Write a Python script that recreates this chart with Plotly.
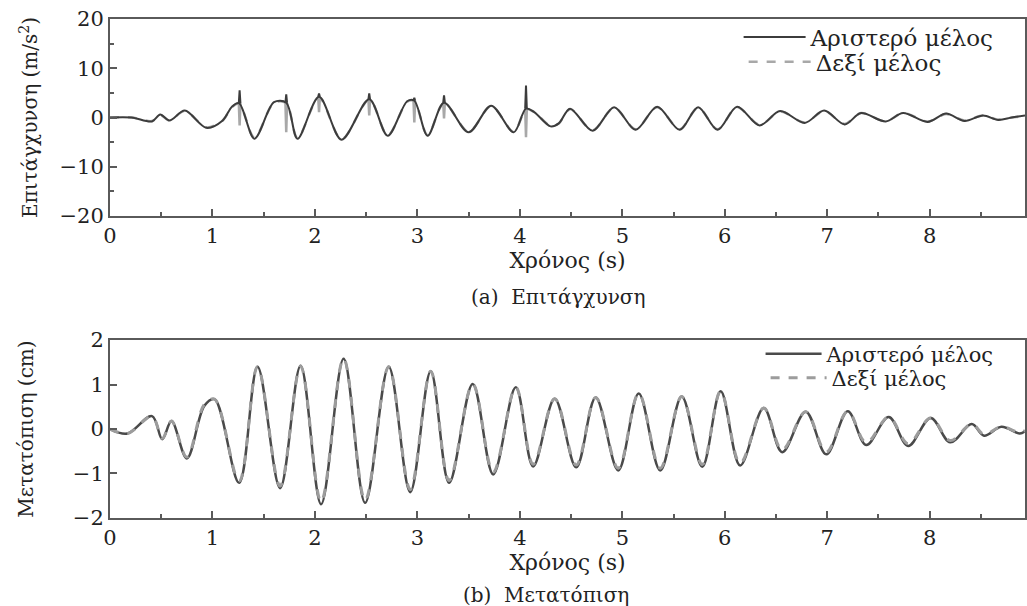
import plotly.graph_objects as go
from plotly.subplots import make_subplots

# ---------------- (a) acceleration, m/s^2 ----------------
acc_t = [0.00, 0.21, 0.41, 0.49, 0.58, 0.73, 0.94, 1.10, 1.19, 1.26, 1.41, 1.60,
         1.72, 1.83, 2.04, 2.26, 2.53, 2.71, 2.90, 2.97, 3.10, 3.26, 3.50, 3.72,
         3.94, 4.06, 4.14, 4.30, 4.38, 4.49, 4.71, 4.92, 5.13, 5.34, 5.56, 5.74,
         5.93, 6.12, 6.34, 6.54, 6.78, 6.97, 7.17, 7.33, 7.57, 7.74, 7.98, 8.16,
         8.34, 8.52, 8.67, 8.80, 8.93]
acc_left = [0.0, 0.0, -0.8, 0.6, -0.6, 1.4, -2.1, -0.6, 2.2, 2.9, -4.3, 3.1,
            3.0, -4.3, 4.2, -4.5, 3.7, -3.7, 3.3, 3.4, -3.7, 3.0, -3.0, 2.4,
            -3.0, 1.8, 1.1, -1.8, -1.2, 1.8, -2.7, 2.1, -2.5, 2.2, -2.5, 2.1,
            -2.5, 2.2, -1.6, 1.3, -1.1, 1.4, -1.4, 0.9, -0.8, 0.9, -0.9, 0.8,
            -0.7, 0.4, -0.5, 0.0, 0.4]
acc_right = [0.0, 0.0, -0.7, 0.5, -0.6, 1.3, -2.0, -0.6, 2.1, 2.8, -4.1, 3.0,
             2.9, -4.2, 4.0, -4.4, 3.6, -3.6, 3.2, 3.3, -3.6, 2.9, -2.9, 2.3,
             -2.9, 1.7, 1.1, -1.7, -1.2, 1.7, -2.6, 2.0, -2.4, 2.1, -2.4, 2.0,
             -2.4, 2.1, -1.5, 1.2, -1.0, 1.3, -1.3, 0.9, -0.8, 0.9, -0.8, 0.7,
             -0.6, 0.4, -0.4, 0.0, 0.3]

# impact instants: short spikes on the left member, dips on the right member
impact_t = [1.265, 1.72, 2.04, 2.53, 2.97, 3.26, 4.06]
impact_base = [2.9, 3.0, 4.2, 3.7, 3.4, 3.0, 1.8]
spike_left = [5.5, 4.7, 4.9, 4.9, 4.0, 4.5, 6.5]
dip_right = [-1.6, -3.0, 1.1, 0.4, -1.0, -0.2, -4.0]

# ---------------- (b) displacement, cm ----------------
disp_t = [0.00, 0.17, 0.41, 0.51, 0.60, 0.75, 0.92, 1.02, 1.26, 1.44, 1.66, 1.86,
          2.06, 2.28, 2.49, 2.72, 2.93, 3.13, 3.31, 3.54, 3.74, 3.96, 4.13, 4.34,
          4.55, 4.74, 4.96, 5.16, 5.37, 5.58, 5.78, 5.96, 6.15, 6.38, 6.56, 6.79,
          6.99, 7.20, 7.38, 7.60, 7.79, 8.01, 8.20, 8.41, 8.53, 8.70, 8.88, 8.93]
disp_left = [0.00, -0.10, 0.29, -0.23, 0.18, -0.66, 0.52, 0.67, -1.21, 1.40, -1.33, 1.42,
             -1.69, 1.58, -1.66, 1.40, -1.42, 1.30, -1.21, 1.01, -1.02, 0.94, -0.84, 0.68,
             -0.86, 0.71, -0.93, 0.80, -0.93, 0.73, -0.85, 0.85, -0.82, 0.47, -0.52, 0.39,
             -0.57, 0.40, -0.36, 0.27, -0.38, 0.25, -0.30, 0.11, -0.15, 0.05, -0.10, -0.05]
disp_right = [0.00, -0.10, 0.28, -0.21, 0.18, -0.63, 0.55, 0.67, -1.17, 1.40, -1.28, 1.41,
              -1.63, 1.58, -1.60, 1.40, -1.36, 1.30, -1.16, 1.01, -0.97, 0.94, -0.79, 0.68,
              -0.81, 0.71, -0.88, 0.80, -0.88, 0.73, -0.80, 0.85, -0.77, 0.47, -0.47, 0.39,
              -0.52, 0.40, -0.31, 0.27, -0.33, 0.25, -0.26, 0.11, -0.12, 0.05, -0.08, -0.03]

x_ticks = [0, 1, 2, 3, 4, 5, 6, 7, 8]

LEFT_NAME = "Αριστερό μέλος"
RIGHT_NAME = "Δεξί μέλος"
DARK = "#3c3c3c"
LIGHT = "#a8a8a8"
AXIS = "#5a5a5a"
INK = "#222222"
FONT = "DejaVu Serif, Liberation Serif, serif"


def impact_path(times, base, tips, half=0.008):
    xs, ys = [], []
    for t, b, tip in zip(times, base, tips):
        xs += [t - half, t, t + half, None]
        ys += [b, tip, b, None]
    return xs, ys


fig = make_subplots(rows=2, cols=1, vertical_spacing=0.25)

# (a) acceleration
fig.add_trace(go.Scatter(x=acc_t, y=acc_right, mode="lines", name=RIGHT_NAME,
                         line=dict(color=LIGHT, width=2.5, dash="dash", shape="spline", smoothing=0.9),
                         legend="legend3"), row=1, col=1)
dx, dy = impact_path(impact_t, impact_base, dip_right)
fig.add_trace(go.Scatter(x=dx, y=dy, mode="lines", showlegend=False,
                         line=dict(color=LIGHT, width=2.5)), row=1, col=1)
fig.add_trace(go.Scatter(x=acc_t, y=acc_left, mode="lines", name=LEFT_NAME,
                         line=dict(color=DARK, width=2, shape="spline", smoothing=0.9),
                         legend="legend"), row=1, col=1)
sx, sy = impact_path(impact_t, impact_base, spike_left)
fig.add_trace(go.Scatter(x=sx, y=sy, mode="lines", showlegend=False,
                         line=dict(color=DARK, width=2)), row=1, col=1)

# (b) displacement
fig.add_trace(go.Scatter(x=disp_t, y=disp_left, mode="lines", name=LEFT_NAME,
                         line=dict(color="#4a4a4a", width=2.5, shape="spline", smoothing=1),
                         legend="legend2"), row=2, col=1)
fig.add_trace(go.Scatter(x=disp_t, y=disp_right, mode="lines", name=RIGHT_NAME,
                         line=dict(color="#9c9c9c", width=3, dash="dash", shape="spline", smoothing=1),
                         legend="legend4"), row=2, col=1)

axis_common = dict(showline=True, linecolor=AXIS, linewidth=2, mirror=True,
                   ticks="inside", ticklen=7, tickwidth=2, tickcolor=AXIS,
                   showgrid=False, zeroline=False,
                   tickfont=dict(family=FONT, size=21, color=INK))

for r in (1, 2):
    fig.update_xaxes(range=[0, 8.93], tickvals=x_ticks,
                     minor=dict(dtick=0.5, tick0=0, ticks="inside", ticklen=4,
                                tickwidth=2, tickcolor=AXIS),
                     title=dict(text="Χρόνος (s)", font=dict(family=FONT, size=22, color=INK),
                                standoff=0),
                     row=r, col=1, **axis_common)

fig.update_yaxes(range=[-20, 20], tickvals=[-20, -10, 0, 10, 20],
                 minor=dict(dtick=5, tick0=0, ticks="inside", ticklen=4, tickwidth=2, tickcolor=AXIS),
                 title=dict(text="Επιτάγχυνση (m/s<sup>2</sup>)",
                            font=dict(family=FONT, size=20, color=INK), standoff=16),
                 domain=[0.6052, 1.0], row=1, col=1, **axis_common)
fig.update_yaxes(range=[-2, 2], tickvals=[-2, -1, 0, 1, 2],
                 title=dict(text="Μετατόπιση (cm)",
                            font=dict(family=FONT, size=20, color=INK), standoff=34),
                 domain=[0.0, 0.3567], row=2, col=1, **axis_common)

top_legend = dict(font=dict(family=FONT, size=23, color=INK), bgcolor="rgba(0,0,0,0)",
                  xanchor="left", yanchor="middle", itemwidth=62, borderwidth=0)
bottom_legend = dict(font=dict(family=FONT, size=21, color=INK), bgcolor="rgba(0,0,0,0)",
                     xanchor="left", yanchor="middle", itemwidth=56, borderwidth=0)

fig.update_layout(
    width=1027, height=606,
    margin=dict(l=110, r=0, t=19, b=88),
    paper_bgcolor="white", plot_bgcolor="white",
    showlegend=True,
    legend=dict(x=0.687, y=0.964, **top_legend),
    legend3=dict(x=0.6925, y=0.914, **top_legend),
    legend2=dict(x=0.711, y=0.3287, **bottom_legend),
    legend4=dict(x=0.7165, y=0.2806, **bottom_legend),
    annotations=[
        dict(text="(a)  Επιτάγχυνση", xref="paper", yref="paper", x=0.49, y=0.443,
             yanchor="middle", showarrow=False, font=dict(family=FONT, size=20, color=INK)),
        dict(text="(b)  Μετατόπιση", xref="paper", yref="paper", x=0.476, y=-0.154,
             yanchor="middle", showarrow=False, font=dict(family=FONT, size=20, color=INK)),
    ],
)

fig.write_html("out.html")
